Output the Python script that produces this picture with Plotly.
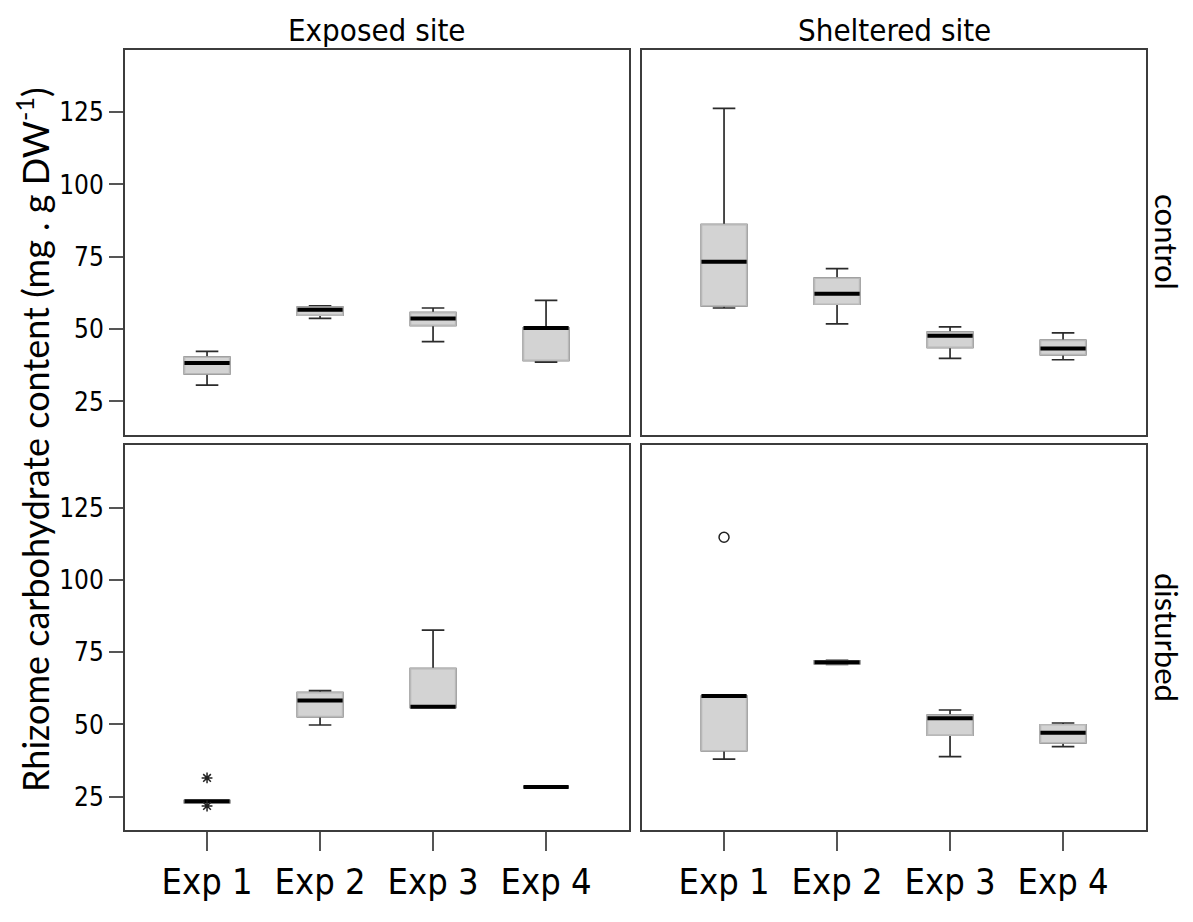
import plotly.graph_objects as go
from plotly.subplots import make_subplots

experiments = ["Exp 1", "Exp 2", "Exp 3", "Exp 4"]
sites = ["Exposed site", "Sheltered site"]
treatments = ["control", "disturbed"]

# Exposed site, control
exp_ctrl_low = [30.6, 53.7, 45.7, 38.6]
exp_ctrl_q1 = [34.5, 54.8, 51.3, 39.2]
exp_ctrl_med = [38.3, 56.7, 53.7, 50.4]
exp_ctrl_q3 = [40.3, 57.6, 55.7, 50.4]
exp_ctrl_high = [42.3, 58.0, 57.3, 59.9]

# Sheltered site, control
she_ctrl_low = [57.3, 51.8, 39.9, 39.4]
she_ctrl_q1 = [58.0, 58.6, 43.7, 41.2]
she_ctrl_med = [73.3, 62.2, 47.7, 43.3]
she_ctrl_q3 = [86.1, 67.6, 49.0, 46.1]
she_ctrl_high = [126.3, 70.9, 50.8, 48.7]

# Exposed site, disturbed
exp_dist_low = [23.0, 49.8, 55.9, 28.4]
exp_dist_q1 = [23.0, 52.7, 55.9, 28.4]
exp_dist_med = [23.4, 58.3, 56.1, 28.4]
exp_dist_q3 = [23.7, 61.0, 69.3, 28.4]
exp_dist_high = [23.7, 61.7, 82.6, 28.4]

# Sheltered site, disturbed
she_dist_low = [38.0, 70.8, 38.9, 42.3]
she_dist_q1 = [40.9, 71.0, 46.3, 43.6]
she_dist_med = [59.8, 71.5, 52.1, 47.1]
she_dist_q3 = [59.8, 72.0, 53.2, 49.9]
she_dist_high = [59.8, 72.2, 55.0, 50.5]

# Outliers
exp_dist_extreme_x = ["Exp 1", "Exp 1"]
exp_dist_extreme_y = [31.5, 21.8]
she_dist_outlier_x = ["Exp 1"]
she_dist_outlier_y = [114.7]

y_ticks = [25, 50, 75, 100, 125]

panels = [
    (1, 1, exp_ctrl_low, exp_ctrl_q1, exp_ctrl_med, exp_ctrl_q3, exp_ctrl_high),
    (1, 2, she_ctrl_low, she_ctrl_q1, she_ctrl_med, she_ctrl_q3, she_ctrl_high),
    (2, 1, exp_dist_low, exp_dist_q1, exp_dist_med, exp_dist_q3, exp_dist_high),
    (2, 2, she_dist_low, she_dist_q1, she_dist_med, she_dist_q3, she_dist_high),
]

# page has an 8px body margin: keep the whole figure inside the 1193x922 window
W, H = 1177, 906
ml, mr, mt, mb = 117, 39, 42, 60

fig = make_subplots(rows=2, cols=2, horizontal_spacing=13 / (W - ml - mr),
                    vertical_spacing=11 / (H - mt - mb))

BOXW = 0.40
FILL = "#d3d3d3"
for r, c, low, q1, med, q3, high in panels:
    # whiskers layer
    fig.add_trace(go.Box(x=experiments, q1=q1, median=med, q3=q3,
                         lowerfence=low, upperfence=high, width=BOXW,
                         whiskerwidth=0.5, fillcolor=FILL,
                         line=dict(color="#2b2b2b", width=1.7),
                         boxpoints=False, showlegend=False, hoverinfo="skip"),
                  row=r, col=c)
    # box outline layer
    fig.add_trace(go.Box(x=experiments, q1=q1, median=med, q3=q3,
                         lowerfence=q1, upperfence=q3, width=BOXW,
                         whiskerwidth=0, fillcolor=FILL,
                         line=dict(color="#b8b8b8", width=1.7),
                         boxpoints=False, showlegend=False, hoverinfo="skip"),
                  row=r, col=c)
    # median layer
    fig.add_trace(go.Box(x=experiments, q1=med, median=med, q3=med,
                         lowerfence=med, upperfence=med, width=BOXW,
                         whiskerwidth=0, fillcolor="rgba(0,0,0,0)",
                         line=dict(color="#000000", width=4),
                         boxpoints=False, showlegend=False, hoverinfo="skip"),
                  row=r, col=c)

fig.add_trace(go.Scatter(x=exp_dist_extreme_x, y=exp_dist_extreme_y, mode="markers",
                         marker=dict(symbol="asterisk-open", size=9, color="#222",
                                     line=dict(color="#222", width=1.5)),
                         showlegend=False, hoverinfo="skip"), row=2, col=1)
fig.add_trace(go.Scatter(x=she_dist_outlier_x, y=she_dist_outlier_y, mode="markers",
                         marker=dict(symbol="circle-open", size=10, color="#222",
                                     line=dict(color="#222", width=1.5)),
                         showlegend=False, hoverinfo="skip"), row=2, col=2)

TICKFONT = "DejaVu Sans Condensed, Liberation Sans Narrow, Arial Narrow, sans-serif"
LABELFONT = "Lato, Open Sans, sans-serif"
for r in (1, 2):
    for c in (1, 2):
        fig.update_xaxes(type="category", categoryorder="array", categoryarray=experiments,
                         range=[-0.726, 3.734], showline=True, mirror=True,
                         linecolor="#3c3c3c", linewidth=2, showgrid=False, zeroline=False,
                         ticks="outside" if r == 2 else "", ticklen=19, tickwidth=1.5,
                         tickcolor="#555", showticklabels=(r == 2),
                         tickfont=dict(family=TICKFONT, size=36, color="#000"),
                         row=r, col=c)
        fig.update_yaxes(range=[13.5, 146.5], tickvals=y_ticks, showline=True, mirror=True,
                         linecolor="#3c3c3c", linewidth=2, showgrid=False, zeroline=False,
                         ticks="outside" if c == 1 else "", ticklen=14, tickwidth=1.5,
                         tickcolor="#555", showticklabels=(c == 1),
                         tickfont=dict(family=TICKFONT, size=26, color="#000"),
                         row=r, col=c)

annotations = []
pw = W - ml - mr
ph = H - mt - mb
col_centers = [(377 - 8 - ml) / pw, (894 - 8 - ml) / pw]
for name, xc in zip(sites, col_centers):
    annotations.append(dict(text=name, x=xc, y=1 + (mt - 21) / ph, xref="paper",
                            yref="paper", xanchor="center", yanchor="middle",
                            showarrow=False,
                            font=dict(family=TICKFONT, size=31, color="#000")))
row_centers = [1 - (248 - 8 - mt) / ph, 1 - (655 - 8 - mt) / ph]
for name, yc in zip(treatments, row_centers):
    annotations.append(dict(text=name, x=1, y=yc, xref="paper", yref="paper",
                            xanchor="center", yanchor="middle", xshift=21, showarrow=False,
                            textangle=90,
                            font=dict(family=LABELFONT, size=31, color="#000")))
annotations.append(dict(text="Rhizome carbohydrate content (mg . g DW<sup>-1</sup>)",
                        x=0, y=0.5, xref="paper", yref="paper", xanchor="center",
                        yanchor="middle", xshift=-92, showarrow=False, textangle=-90,
                        font=dict(family=LABELFONT, size=36, color="#000")))

fig.update_layout(width=W, height=H, margin=dict(l=ml, r=mr, t=mt, b=mb),
                  paper_bgcolor="white", plot_bgcolor="white", boxmode="overlay",
                  annotations=annotations)

fig.write_html("out.html")
